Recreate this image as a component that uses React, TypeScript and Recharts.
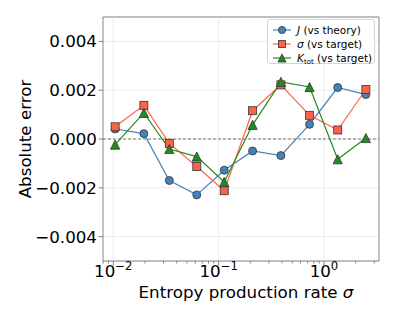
import React from 'react'
import { CartesianGrid, Line, LineChart, ReferenceArea, ReferenceLine, XAxis, YAxis } from 'recharts'

const sigmaRates = [0.0104, 0.0195, 0.034, 0.062, 0.113, 0.21, 0.39, 0.73, 1.35, 2.5]
const jErr = [0.00041, 0.00022, -0.0017, -0.00229, -0.00128, -0.00049, -0.00068, 0.0006, 0.00211, 0.00182]
const sigmaErr = [0.0005, 0.00138, -0.00018, -0.00113, -0.00212, 0.00116, 0.00222, 0.00097, 0.00037, 0.00203]
const kErr = [-0.00023, 0.00107, -0.00041, -0.00072, -0.00176, 0.00058, 0.00234, 0.00213, -0.00083, 0.00004]

const majorX = [0.01, 0.1, 1]
const minorX = [0.008, 0.009, 0.02, 0.03, 0.04, 0.05, 0.06, 0.07, 0.08, 0.09,
  0.2, 0.3, 0.4, 0.5, 0.6, 0.7, 0.8, 0.9, 2, 3]
const yTicks = [-0.004, -0.002, 0, 0.002, 0.004]

const X_DOMAIN = [0.00798, 3.33]
const Y_DOMAIN = [-0.005, 0.005]

const BLUE = '#4682b4'
const RED = '#ff6347'
const GREEN = '#228b22'
const EDGE = '#333'
const FONT = '"DejaVu Sans", sans-serif'

const rows = sigmaRates.map((s, i) => ({ s, j: jErr[i], sig: sigmaErr[i], k: kErr[i] }))

const exps: Record<string, string> = { '0.01': '\u22122', '0.1': '\u22121', '1': '0' }

const XTick = (props: any) => {
  const { x, y, payload } = props
  const v = payload.value
  const major = majorX.includes(v)
  return (
    <g>
      <line x1={x} x2={x} y1={y} y2={y + (major ? 4.5 : 2.5)} stroke="#666" strokeWidth={0.8} />
      {major && (
        <text x={x} y={y + 16} textAnchor="middle" fontSize={16.7} fontFamily={FONT} fill="#000">
          <tspan>10</tspan>
          <tspan dy={-7} fontSize={11.7}>{exps[String(v)]}</tspan>
        </text>
      )}
    </g>
  )
}

const YTick = (props: any) => {
  const { x, y, payload } = props
  const v: number = payload.value
  const label = (v < 0 ? '\u2212' : '') + Math.abs(v).toFixed(3)
  return (
    <g>
      <line x1={x - 4.5} x2={x} y1={y} y2={y} stroke="#666" strokeWidth={0.8} />
      <text x={x - 6} y={y} textAnchor="end" dominantBaseline="central" fontSize={16.7} fontFamily={FONT} fill="#000">
        {label}
      </text>
    </g>
  )
}

const Circle = (color: string) => (p: any) => (
  <circle key={p.index} cx={p.cx} cy={p.cy} r={4} fill={color} stroke={EDGE} strokeWidth={0.8} />
)
const Square = (color: string) => (p: any) => (
  <rect key={p.index} x={p.cx - 4} y={p.cy - 4} width={8} height={8} fill={color} stroke={EDGE} strokeWidth={0.8} />
)
const Triangle = (color: string) => (p: any) => (
  <polygon key={p.index} points={`${p.cx},${p.cy - 4.6} ${p.cx - 4.6},${p.cy + 4.6} ${p.cx + 4.6},${p.cy + 4.6}`}
    fill={color} stroke={EDGE} strokeWidth={0.8} />
)

const LegendRow = ({ color, shape, children }: { color: string, shape: string, children: React.ReactNode }) => (
  <div style={{ display: 'flex', alignItems: 'center', height: 14, whiteSpace: 'nowrap' }}>
    <svg width={22} height={12} style={{ marginRight: 4, flexShrink: 0 }}>
      <line x1={2} x2={20} y1={6} y2={6} stroke={color} strokeWidth={1.2} />
      {shape === 'circle' && <circle cx={11} cy={6} r={3.6} fill={color} stroke={EDGE} strokeWidth={0.8} />}
      {shape === 'square' && <rect x={7.5} y={2.5} width={7} height={7} fill={color} stroke={EDGE} strokeWidth={0.8} />}
      {shape === 'triangle' && <polygon points="11,2 7,10 15,10" fill={color} stroke={EDGE} strokeWidth={0.8} />}
    </svg>
    <span style={{ lineHeight: '12px' }}>{children}</span>
  </div>
)

export default function App() {
  return (
    <div style={{ position: 'absolute', left: 0, top: 0, width: 397, height: 322, background: '#fff' }}>
      <LineChart width={397} height={322} data={rows} margin={{ top: 17, right: 18, left: 0, bottom: 0 }}>
        <CartesianGrid vertical={false} stroke="#e6e6e6" strokeWidth={0.8} />
        {majorX.map(v => (
          <ReferenceLine key={v} x={v} stroke="#e6e6e6" strokeWidth={0.8} />
        ))}
        <XAxis
          dataKey="s"
          type="number"
          scale="log"
          domain={X_DOMAIN}
          allowDataOverflow
          ticks={[...majorX, ...minorX]}
          interval={0}
          height={61}
          tickSize={0}
          tickMargin={0}
          tickLine={false}
          axisLine={false}
          tick={XTick}
          label={{
            content: ({ viewBox }: any) => (
              <text x={viewBox.x + viewBox.width / 2 + 5} y={viewBox.y + 37} textAnchor="middle"
                fontSize={16.7} fontFamily={FONT} fill="#000">
                Entropy production rate <tspan fontStyle="italic">σ</tspan>
              </text>
            ),
          }}
        />
        <YAxis
          type="number"
          domain={Y_DOMAIN}
          allowDataOverflow
          ticks={yTicks}
          interval={0}
          width={103}
          tickSize={0}
          tickMargin={0}
          tickLine={false}
          axisLine={false}
          tick={YTick}
          label={{
            content: ({ viewBox }: any) => {
              const cx = 25
              const cy = viewBox.y + viewBox.height / 2
              return (
                <text x={cx} y={cy} transform={`rotate(-90 ${cx} ${cy})`} textAnchor="middle"
                  dominantBaseline="central" fontSize={16.7} fontFamily={FONT} fill="#000">
                  Absolute error
                </text>
              )
            },
          }}
        />
        <ReferenceLine y={0} stroke="#555" strokeWidth={0.8} strokeDasharray="3 2" />
        <Line dataKey="j" type="linear" stroke={BLUE} strokeWidth={1.2} dot={Circle(BLUE)} activeDot={false} isAnimationActive={false} />
        <Line dataKey="sig" type="linear" stroke={RED} strokeWidth={1.2} dot={Square(RED)} activeDot={false} isAnimationActive={false} />
        <Line dataKey="k" type="linear" stroke={GREEN} strokeWidth={1.2} dot={Triangle(GREEN)} activeDot={false} isAnimationActive={false} />
        <ReferenceArea x1={X_DOMAIN[0]} x2={X_DOMAIN[1]} y1={Y_DOMAIN[0]} y2={Y_DOMAIN[1]}
          fill="none" stroke="#888" strokeWidth={1} ifOverflow="visible" />
      </LineChart>
      <div style={{
        position: 'absolute', left: 267, top: 19, width: 108, height: 45, boxSizing: 'border-box',
        border: '1px solid #d4d4d4', borderRadius: 3, background: 'rgba(255,255,255,0.85)',
        fontFamily: FONT, fontSize: 10.5, color: '#000', padding: '3px 0 0 3px', overflow: 'visible',
      }}>
        <LegendRow color={BLUE} shape="circle"><i>J</i> (vs theory)</LegendRow>
        <LegendRow color={RED} shape="square"><i>σ</i> (vs target)</LegendRow>
        <LegendRow color={GREEN} shape="triangle">
          <i>K</i><sub style={{ fontSize: 7, lineHeight: 0, verticalAlign: -2 }}>tot</sub> (vs target)
        </LegendRow>
      </div>
    </div>
  )
}
